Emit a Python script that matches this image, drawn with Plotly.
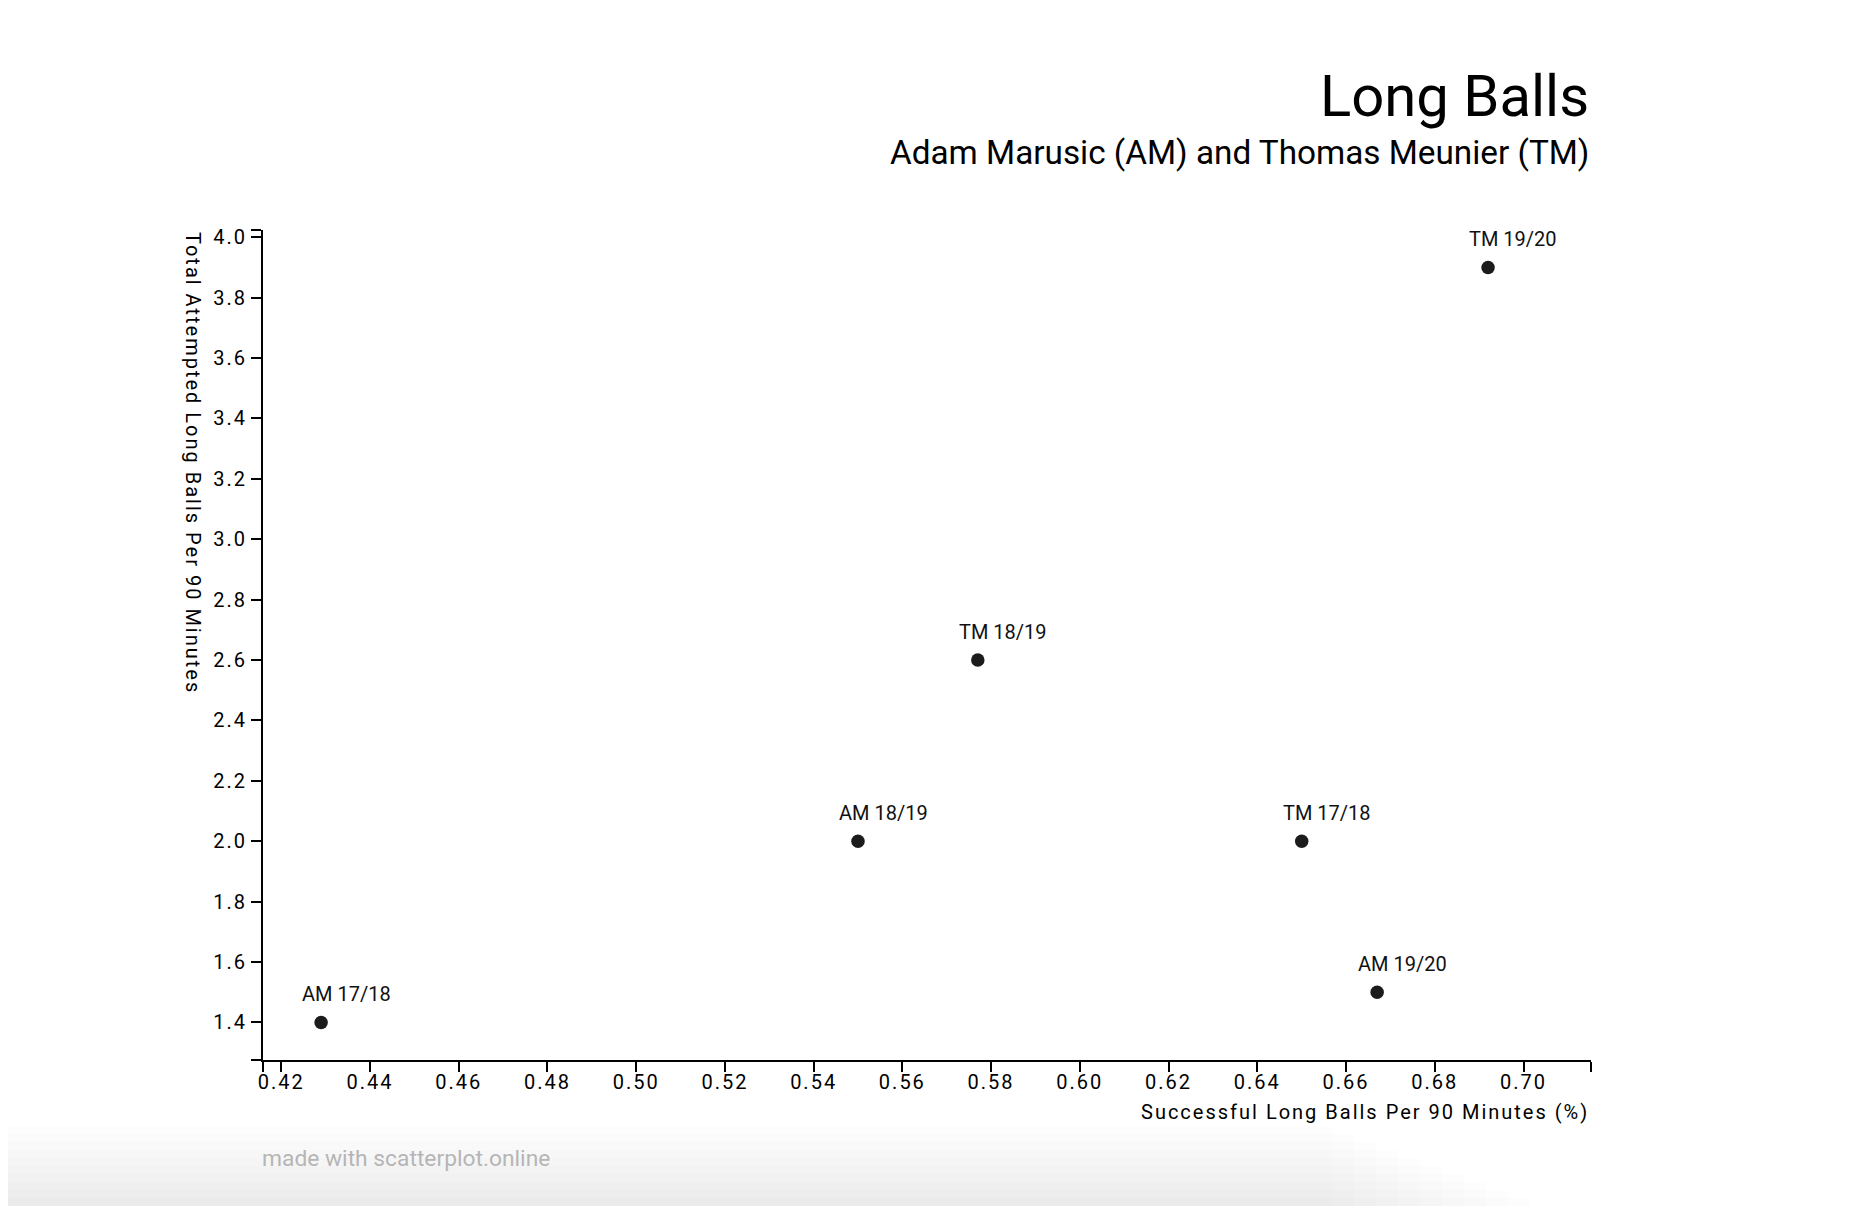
import plotly.graph_objects as go

# season points
labels = ["AM 17/18", "AM 18/19", "AM 19/20", "TM 17/18", "TM 18/19", "TM 19/20"]
successful = [0.429, 0.550, 0.667, 0.650, 0.577, 0.692]
attempted = [1.4, 2.0, 1.5, 2.0, 2.6, 3.9]

x_ticks = [0.42, 0.44, 0.46, 0.48, 0.50, 0.52, 0.54, 0.56, 0.58, 0.60, 0.62, 0.64, 0.66, 0.68, 0.70]
y_ticks = [1.4, 1.6, 1.8, 2.0, 2.2, 2.4, 2.6, 2.8, 3.0, 3.2, 3.4, 3.6, 3.8, 4.0]

X_RANGE = [0.4159, 0.7152]
Y_RANGE = [1.2755, 4.024]

W, H = 1852, 1206
# page has an 8px body margin, so the figure is offset by 8px
M = dict(l=255, r=269, t=222, b=154)
PLOT_W = W - M["l"] - M["r"]
PLOT_H = H - M["t"] - M["b"]
PAGE_OFF = 8

FONT = "Roboto"


def spaced(s, ls=2):
    return f'<span style="letter-spacing:{ls}px">{s}</span>'


def paper_y(px):
    # pixel row on the page -> paper coordinate
    return (H - M["b"] + PAGE_OFF - px) / PLOT_H


def paper_x(px):
    return (px - PAGE_OFF - M["l"]) / PLOT_W


fig = go.Figure()
fig.add_trace(go.Scatter(
    x=successful, y=attempted, mode="markers",
    marker=dict(size=13.5, color="#1c1c1c"),
    hoverinfo="skip", showlegend=False,
))

ann = []
for lab, xv, yv in zip(labels, successful, attempted):
    ann.append(dict(x=xv, y=yv, text=lab, showarrow=False, xanchor="center", yanchor="middle",
                    xshift=25, yshift=28, font=dict(family=FONT, size=20, color="#111")))

# titles
ann.append(dict(xref="paper", yref="paper", x=1, y=paper_y(120), text="Long Balls", showarrow=False,
                xanchor="right", yanchor="bottom", yshift=-12,
                font=dict(family=FONT, size=58, color="#000")))
ann.append(dict(xref="paper", yref="paper", x=1, y=paper_y(166), text="Adam Marusic (AM) and Thomas Meunier (TM)",
                showarrow=False, xanchor="right", yanchor="bottom", yshift=-8,
                font=dict(family=FONT, size=33.3, color="#000")))
# axis titles
ann.append(dict(xref="paper", yref="paper", x=1, y=paper_y(1112),
                text=spaced("Successful Long Balls Per 90 Minutes (%)"), showarrow=False,
                xanchor="right", yanchor="middle", font=dict(family=FONT, size=20, color="#000")))
ann.append(dict(xref="paper", yref="paper", x=0, xshift=-70, y=1, yanchor="top", xanchor="center",
                text=spaced("Total Attempted Long Balls Per 90 Minutes"), textangle=90, showarrow=False,
                font=dict(family=FONT, size=20, color="#000")))
# watermark
ann.append(dict(xref="paper", yref="paper", x=0, xshift=-3, y=paper_y(1158), text="made with scatterplot.online",
                showarrow=False, xanchor="left", yanchor="middle",
                font=dict(family=FONT, size=22.8, color="#b5b5b5")))

# soft grey footer band, stacked translucent strips
shapes = []
for i in range(10):
    top = 1206 - (i + 1) * 8
    shapes.append(dict(type="rect", xref="paper", yref="paper", layer="below",
                       x0=paper_x(0), x1=paper_x(1530 - i * 22),
                       y0=paper_y(1210), y1=paper_y(top),
                       line=dict(width=0), fillcolor="rgba(0,0,0,0.008)"))

axis_common = dict(showgrid=False, zeroline=False, showline=True, linecolor="#000", linewidth=2,
                   ticks="outside", ticklen=10, tickwidth=1.8, tickcolor="#000",
                   tickfont=dict(family=FONT, size=20, color="#000"), mirror=False)

fig.update_xaxes(range=X_RANGE, tickmode="array",
                 tickvals=[X_RANGE[0]] + x_ticks + [X_RANGE[1]],
                 ticktext=[""] + [spaced(f"{v:.2f}") for v in x_ticks] + [""],
                 ticklabelstandoff=-7, **axis_common)
fig.update_yaxes(range=Y_RANGE, tickmode="array",
                 tickvals=[Y_RANGE[0]] + y_ticks + [Y_RANGE[1]],
                 ticktext=[""] + [spaced(f"{v:.1f}") for v in y_ticks] + [""],
                 **axis_common)

fig.update_layout(
    width=W, height=H, margin=M,
    paper_bgcolor="white", plot_bgcolor="white",
    annotations=ann, shapes=shapes,
    font=dict(family=FONT),
)

fig.write_html("out.html")
